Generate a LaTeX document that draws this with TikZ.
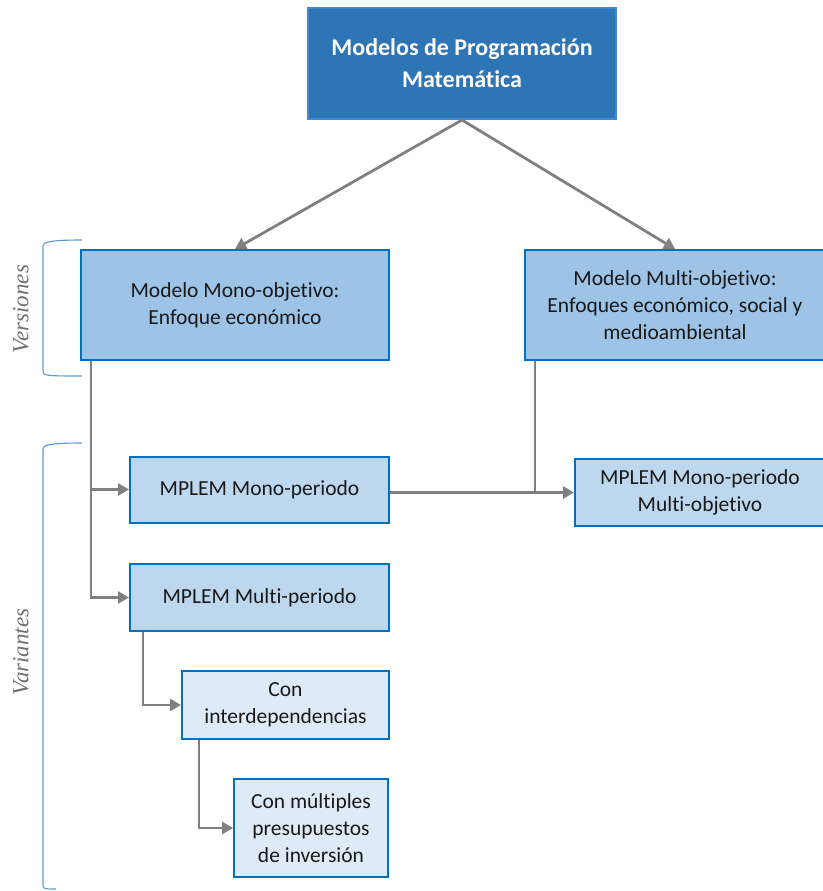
\documentclass[tikz,border=0pt]{standalone}
\usepackage{fontspec}
\setmainfont{Carlito}[Ligatures=NoCommon]
\newfontfamily\sidefont{Liberation Serif}
\usetikzlibrary{arrows.meta,calc}
\definecolor{topfill}{HTML}{2E75B6}
\definecolor{topline}{HTML}{3F8AD2}
\definecolor{lvtwo}{HTML}{9DC3E6}
\definecolor{lvthree}{HTML}{BDD7EE}
\definecolor{lvfour}{HTML}{DEEBF7}
\definecolor{boxline}{HTML}{0070C0}
\definecolor{conn}{HTML}{808080}
\definecolor{bracket}{HTML}{5B9BD5}
\definecolor{sidetext}{HTML}{6F6F6F}
\tikzset{
  box/.style={draw=boxline, line width=2pt, align=center, inner sep=2pt,
    font=\fontsize{21.5}{27}\selectfont, text=black!90},
  topbox/.style={box, fill=topfill, draw=topline, text=white,
    font=\fontsize{24}{32}\selectfont\bfseries},
  conn/.style={draw=conn, line width=2.8pt},
  arr/.style={conn, -{Triangle[length=11pt,width=12pt]}},
  bracket/.style={draw=bracket, line width=1.1pt},
  sidelabel/.style={text=sidetext, font=\sidefont\itshape\fontsize{23}{26}\selectfont, rotate=90}
}
\begin{document}
\begin{tikzpicture}[x=1pt,y=-1pt]
\useasboundingbox (0,0) rectangle (822,891);

% boxes
\node[topbox, minimum width=308pt, minimum height=111pt] (top) at (462,63.5)
  {Modelos de Programación\\Matemática};
\node[box, fill=lvtwo, minimum width=308pt, minimum height=110pt] (mono) at (235,305)
  {Modelo Mono-objetivo:\\Enfoque económico};
\node[box, fill=lvtwo, minimum width=300pt, minimum height=110pt] (multi) at (675,305)
  {Modelo Multi-objetivo:\\Enfoques económico, social y\\medioambiental};
\node[box, fill=lvthree, minimum width=259pt, minimum height=66pt] (monoper) at (259.5,489.5)
  {MPLEM Mono-periodo};
\node[box, fill=lvthree, minimum width=250pt, minimum height=67pt] (monomulti) at (700,492.5)
  {MPLEM Mono-periodo\\Multi-objetivo};
\node[box, fill=lvthree, minimum width=259pt, minimum height=67pt] (multiper) at (259.5,597.5)
  {MPLEM Multi-periodo};
\node[box, fill=lvfour, minimum width=207pt, minimum height=68pt] (interdep) at (285.5,705)
  {Con\\interdependencias};
\node[box, fill=lvfour, minimum width=154pt, minimum height=98pt] (presup) at (311,828)
  {Con múltiples\\presupuestos\\de inversión};

% connectors
\draw[arr] (top.south) -- (mono.north);
\draw[arr] (top.south) -- (multi.north);
\draw[arr] ([xshift=11pt]mono.south west) |- (monoper.west);
\draw[arr] ([xshift=11pt]mono.south west) |- (multiper.west);
\draw[arr] ([xshift=14pt]multiper.south west) |- (interdep.west);
\draw[arr] ([xshift=18pt]interdep.south west) |- (presup.west);
\draw[conn] ([xshift=11pt]multi.south west) -- ([xshift=11pt]multi.south west |- monomulti.west);
\draw[arr] (monoper.east |- monomulti.west) -- (monomulti.west);

% side brackets
\draw[bracket] (82,240) .. controls (60,240) and (46,241) .. (44,244) -- (43,246)
  -- (43,371) -- (44,374) .. controls (46,376) and (60,376) .. (82,376);
\draw[bracket] (82,443) .. controls (60,443) and (46,444) .. (44,447) -- (43,449)
  -- (43,886) -- (44,888) .. controls (46,889) and (50,889) .. (56,889);
\node[sidelabel] (versiones) at (21,309) {Versiones};
\node[sidelabel] (variantes) at (21,652) {Variantes};
\end{tikzpicture}
\end{document}
